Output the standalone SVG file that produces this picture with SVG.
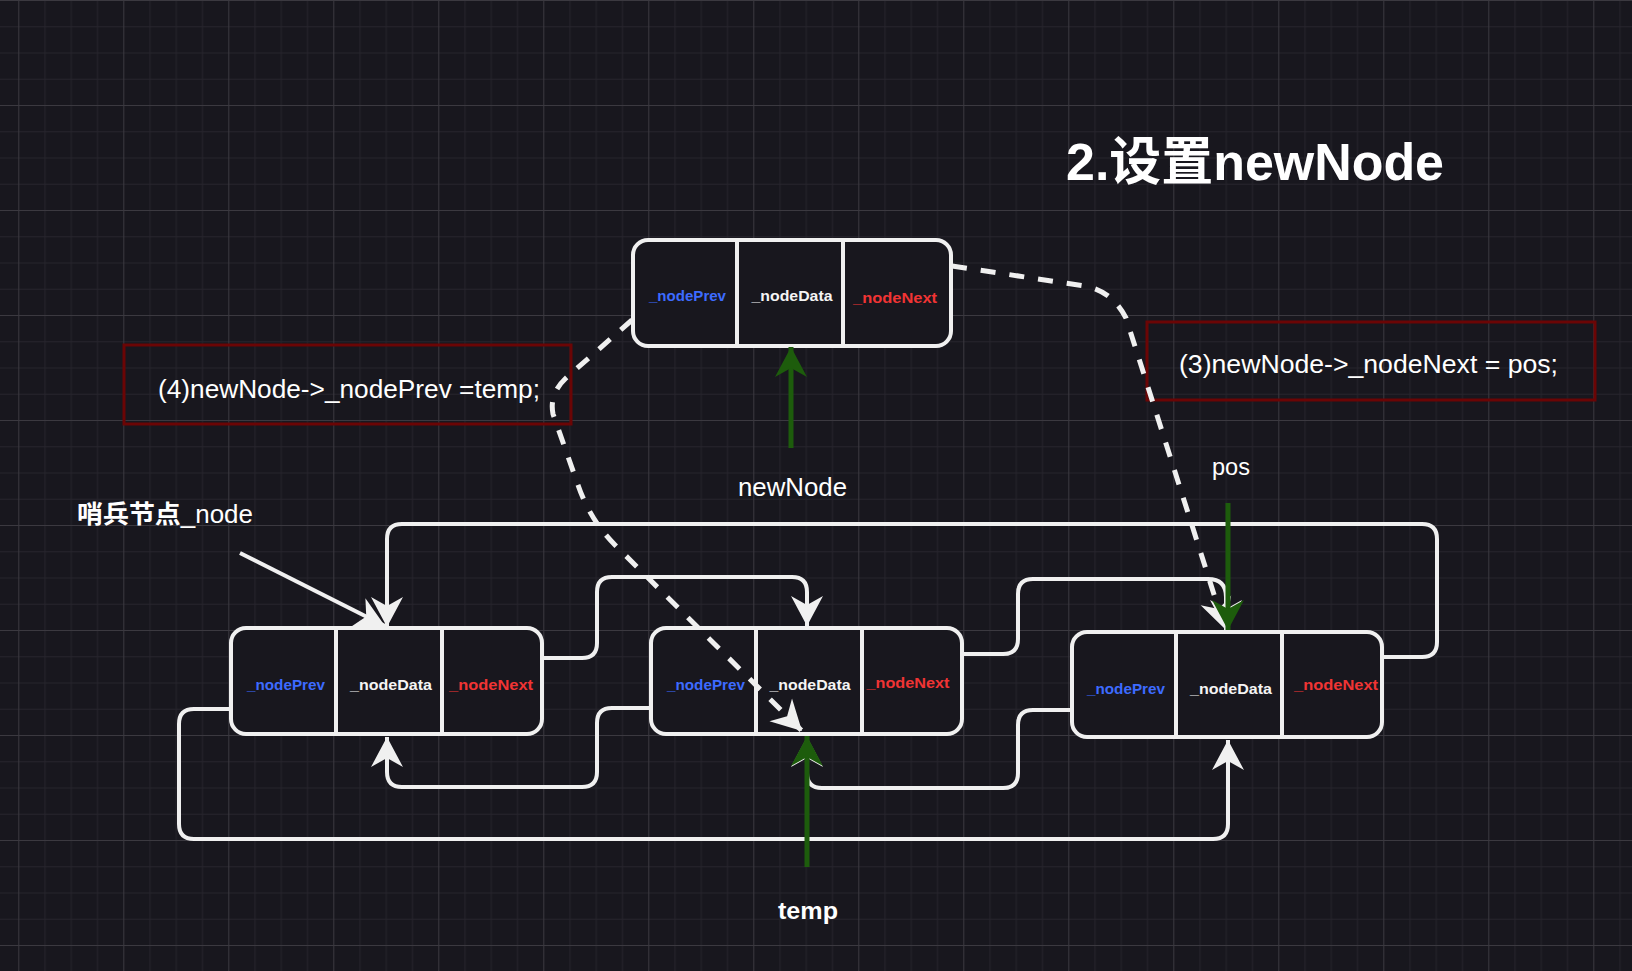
<svg xmlns="http://www.w3.org/2000/svg" width="1632" height="971" viewBox="0 0 1632 971">
  <defs>
    <pattern id="grid" patternUnits="userSpaceOnUse" x="18.3" y="0" width="105" height="105">
      <rect width="105" height="105" fill="#18171e"/>
      <g fill="#26242c">
        <rect x="26.25" y="0" width="1" height="105"/>
        <rect x="52.5" y="0" width="1" height="105"/>
        <rect x="78.75" y="0" width="1" height="105"/>
        <rect x="0" y="26.25" width="105" height="1"/>
        <rect x="0" y="52.5" width="105" height="1"/>
        <rect x="0" y="78.75" width="105" height="1"/>
      </g>
      <g fill="#3b3940">
        <rect x="0" y="0" width="1" height="105"/>
        <rect x="0" y="0" width="105" height="1"/>
      </g>
    </pattern>
    <marker id="ahw" markerUnits="userSpaceOnUse" viewBox="-32 -18 34 36" markerWidth="34" markerHeight="36" refX="0" refY="0" orient="auto">
      <path d="M0,0 L-30,-16 L-21,0 L-30,16 Z" fill="#f0f0f0"/>
    </marker>
    <marker id="ahg" markerUnits="userSpaceOnUse" viewBox="-32 -18 34 36" markerWidth="34" markerHeight="36" refX="0" refY="0" orient="auto">
      <path d="M0,0 L-30,-16 L-21,0 L-30,16 Z" fill="#1d5c0c"/>
    </marker>
  </defs>
  <style>
    .box { fill: #18171e; stroke: #f0f0f0; stroke-width: 4; }
    .div { stroke: #f0f0f0; stroke-width: 4; }
    .lbl { font-family: "Liberation Sans", "Noto Sans", sans-serif; font-size: 15.5px; font-weight: bold; text-anchor: middle; }
    .prev { fill: #3d6bff; }
    .data { fill: #f4f4f4; }
    .next { fill: #f03434; }
    .conn { fill: none; stroke: #f0f0f0; stroke-width: 4; stroke-linejoin: round; }
    .dash { fill: none; stroke: #f0f0f0; stroke-width: 5; stroke-dasharray: 15 14; }
    .green { fill: none; stroke: #1d5c0c; stroke-width: 5; }
    .note { fill: none; stroke: #6b0505; stroke-width: 3; }
    .txt { font-family: "Liberation Sans", "Noto Sans CJK SC", sans-serif; fill: #ffffff; }
  </style>

  <rect width="1632" height="971" fill="url(#grid)"/>

  <g id="title">
    <text class="txt" x="1066" y="180" font-size="52" font-weight="bold" textLength="378" lengthAdjust="spacingAndGlyphs">2.设置newNode</text>
  </g>

  <g id="note4">
    <rect class="note" x="124" y="345" width="447" height="79"/>
    <text class="txt" x="158" y="398" font-size="26" textLength="382" lengthAdjust="spacingAndGlyphs">(4)newNode-&gt;_nodePrev =temp;</text>
  </g>

  <g id="note3">
    <rect class="note" x="1147" y="322" width="448" height="78"/>
    <text class="txt" x="1179" y="373" font-size="26" textLength="379" lengthAdjust="spacingAndGlyphs">(3)newNode-&gt;_nodeNext = pos;</text>
  </g>

  <g id="newNodeBox">
    <rect class="box" x="633" y="240" width="318" height="106" rx="15"/>
    <line class="div" x1="737" y1="240" x2="737" y2="346"/>
    <line class="div" x1="843" y1="240" x2="843" y2="346"/>
    <text class="lbl prev" x="687.5" y="301" textLength="77" lengthAdjust="spacingAndGlyphs">_nodePrev</text>
    <text class="lbl data" x="792" y="301" textLength="81" lengthAdjust="spacingAndGlyphs">_nodeData</text>
    <text class="lbl next" x="895" y="303" textLength="84" lengthAdjust="spacingAndGlyphs">_nodeNext</text>
  </g>

  <g id="sentinelNode">
    <rect class="box" x="231" y="628" width="311" height="106" rx="15"/>
    <line class="div" x1="336" y1="628" x2="336" y2="734"/>
    <line class="div" x1="442" y1="628" x2="442" y2="734"/>
    <text class="lbl prev" x="286" y="690" textLength="78" lengthAdjust="spacingAndGlyphs">_nodePrev</text>
    <text class="lbl data" x="391" y="690" textLength="82" lengthAdjust="spacingAndGlyphs">_nodeData</text>
    <text class="lbl next" x="491" y="690" textLength="84" lengthAdjust="spacingAndGlyphs">_nodeNext</text>
  </g>

  <g id="tempNode">
    <rect class="box" x="651" y="628" width="311" height="106" rx="15"/>
    <line class="div" x1="756" y1="628" x2="756" y2="734"/>
    <line class="div" x1="862" y1="628" x2="862" y2="734"/>
    <text class="lbl prev" x="706" y="690" textLength="78" lengthAdjust="spacingAndGlyphs">_nodePrev</text>
    <text class="lbl data" x="810" y="690" textLength="81" lengthAdjust="spacingAndGlyphs">_nodeData</text>
    <text class="lbl next" x="908" y="688" textLength="83" lengthAdjust="spacingAndGlyphs">_nodeNext</text>
  </g>

  <g id="posNode">
    <rect class="box" x="1072" y="632" width="310" height="105" rx="15"/>
    <line class="div" x1="1176" y1="632" x2="1176" y2="737"/>
    <line class="div" x1="1282" y1="632" x2="1282" y2="737"/>
    <text class="lbl prev" x="1126" y="694" textLength="78" lengthAdjust="spacingAndGlyphs">_nodePrev</text>
    <text class="lbl data" x="1231" y="694" textLength="82" lengthAdjust="spacingAndGlyphs">_nodeData</text>
    <text class="lbl next" x="1336" y="690" textLength="84" lengthAdjust="spacingAndGlyphs">_nodeNext</text>
  </g>

  <g id="connectors">
    <path class="conn" marker-end="url(#ahw)" d="M542 658 L582 658 Q597 658 597 643 L597 592 Q597 577 612 577 L792 577 Q807 577 807 592 L807 626"/>
    <path class="conn" marker-end="url(#ahw)" d="M651 708 L612 708 Q597 708 597 723 L597 772 Q597 787 582 787 L402 787 Q387 787 387 772 L387 737"/>
    <path class="conn" marker-end="url(#ahw)" d="M962 654 L1003 654 Q1018 654 1018 639 L1018 594 Q1018 579 1033 579 L1208 579 Q1226 579 1226 597 L1226 630"/>
    <path class="conn" marker-end="url(#ahw)" d="M1072 710 L1033 710 Q1018 710 1018 725 L1018 773 Q1018 788 1003 788 L822 788 Q807 788 807 773 L807 737"/>
    <path class="conn" marker-end="url(#ahw)" d="M1382 657 L1422 657 Q1437 657 1437 642 L1437 539 Q1437 524 1422 524 L402 524 Q387 524 387 539 L387 627"/>
    <path class="conn" marker-end="url(#ahw)" d="M231 709 L194 709 Q179 709 179 724 L179 824 Q179 839 194 839 L1213 839 Q1228 839 1228 824 L1228 740"/>
    <path class="conn" stroke-width="5" marker-end="url(#ahw)" d="M240 553 L385 626"/>
    <path class="dash" marker-end="url(#ahw)" d="M632 320 L566 378 Q549 394 553 414 L578 485 Q590 520 615 545 L802 731"/>
    <path class="dash" marker-end="url(#ahw)" d="M952 266 L1085 286 Q1112 291 1126 318 L1225 629"/>
    <path class="green" marker-end="url(#ahg)" d="M791 448 L791 347"/>
    <path class="green" marker-end="url(#ahg)" d="M807 867 L807 736"/>
    <path class="green" marker-end="url(#ahg)" d="M1228 503 L1228 630"/>
  </g>

  <g id="labels">
    <text class="txt" x="738" y="496" font-size="25" textLength="109" lengthAdjust="spacingAndGlyphs">newNode</text>
    <text class="txt" x="1212" y="475" font-size="24" textLength="38" lengthAdjust="spacingAndGlyphs">pos</text>
    <text class="txt" x="778" y="919" font-size="24" font-weight="bold" textLength="60" lengthAdjust="spacingAndGlyphs">temp</text>
    <text class="txt" x="77" y="523" font-size="25" textLength="176" lengthAdjust="spacingAndGlyphs"><tspan font-weight="bold">哨兵节点</tspan><tspan>_node</tspan></text>
  </g>
</svg>
